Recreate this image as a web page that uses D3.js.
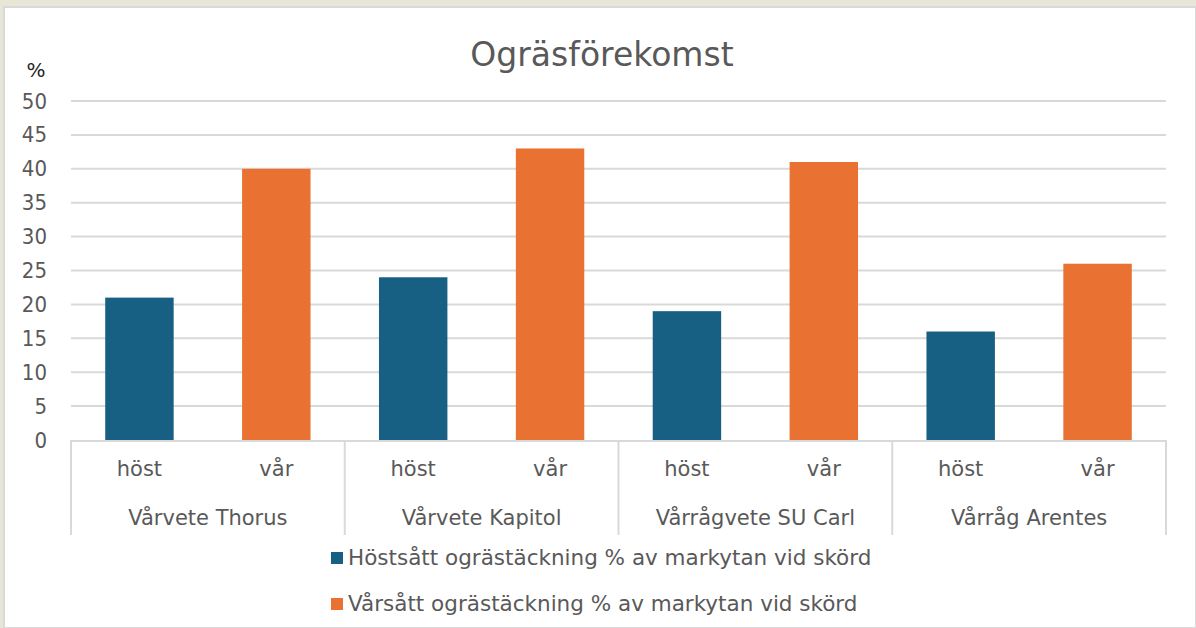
<!DOCTYPE html>
<html lang="sv">
<head>
<meta charset="utf-8">
<title>Ogräsförekomst</title>
<script src="https://d3js.org/d3.v7.min.js"></script>
<style>
  body { margin: 0; background: #e8e6d6; }
  svg { display: block; font-family: "DejaVu Sans", sans-serif; }
</style>
</head>
<body>
<svg width="1196" height="628"></svg>
<script>
// data
var groups = ['Vårvete Thorus', 'Vårvete Kapitol', 'Vårrågvete SU Carl', 'Vårråg Arentes'];
var seasons = ['höst', 'vår'];
var hostVals = [21, 24, 19, 16];
var varVals = [40, 43, 41, 26];
var seriesNames = ['Höstsått ogrästäckning % av markytan vid skörd',
                   'Vårsått ogrästäckning % av markytan vid skörd'];
var colors = ['#175f83', '#e97132'];
var yTicks = [0, 5, 10, 15, 20, 25, 30, 35, 40, 45, 50];

var svg = d3.select('svg');
var textCol = '#595959';

// white chart area inside beige frame
svg.append('rect').attr('x', 4).attr('y', 7).attr('width', 1192).attr('height', 621)
  .attr('fill', '#fff').attr('stroke', '#d9d9d9').attr('stroke-width', 2);

var plotL = 71, plotR = 1166, plotT = 101, plotB = 440;

var x0 = d3.scaleBand().domain(groups).range([plotL, plotR]);
var x1 = d3.scaleBand().domain(seasons).range([0, x0.bandwidth()]).paddingInner(0.5).paddingOuter(0.25);
var y = d3.scaleLinear().domain([0, 50]).range([plotB, plotT]);

// gridlines
svg.append('g').selectAll('line').data(yTicks.slice(1)).enter().append('line')
  .attr('x1', plotL).attr('x2', plotR)
  .attr('y1', function(d) { return y(d); }).attr('y2', function(d) { return y(d); })
  .attr('stroke', '#d9d9d9').attr('stroke-width', 2);

// y axis
var yAxis = svg.append('g').attr('transform', 'translate(' + 47 + ',0)')
  .call(d3.axisLeft(y).tickValues(yTicks).tickSize(0).tickPadding(0));
yAxis.select('.domain').remove();
yAxis.selectAll('text').attr('fill', textCol).style('font-size', '22px')
  .style('font-family', '"DejaVu Sans Condensed", "DejaVu Sans", sans-serif');

svg.append('text').attr('x', 36).attr('y', 77).attr('text-anchor', 'middle')
  .attr('fill', '#262626').style('font-size', '20px').text('%');

// title
svg.append('text').attr('x', 602).attr('y', 66).attr('text-anchor', 'middle')
  .attr('fill', textCol).style('font-size', '33px').text('Ogräsförekomst');

// bars
var rows = groups.map(function(g, i) { return { group: g, vals: [hostVals[i], varVals[i]] }; });
var gg = svg.append('g').selectAll('g').data(rows).enter().append('g')
  .attr('transform', function(d) { return 'translate(' + x0(d.group) + ',0)'; });
gg.selectAll('rect').data(function(d) { return d.vals.map(function(v, j) { return { s: seasons[j], v: v, j: j }; }); })
  .enter().append('rect')
  .attr('x', function(d) { return x1(d.s); })
  .attr('width', x1.bandwidth())
  .attr('y', function(d) { return y(d.v); })
  .attr('height', function(d) { return y(0) - y(d.v); })
  .attr('fill', function(d) { return colors[d.j]; });

// category axis box
var ax = svg.append('g');
ax.append('line').attr('x1', plotL).attr('x2', plotR).attr('y1', plotB + 1).attr('y2', plotB + 1)
  .attr('stroke', '#d9d9d9').attr('stroke-width', 2);
var edges = groups.map(function(g) { return x0(g); }).concat([plotR]);
ax.selectAll('line.sep').data(edges).enter().append('line').attr('class', 'sep')
  .attr('x1', function(d) { return d; }).attr('x2', function(d) { return d; })
  .attr('y1', plotB).attr('y2', 535)
  .attr('stroke', '#d9d9d9').attr('stroke-width', 2);

rows.forEach(function(r) {
  seasons.forEach(function(s) {
    ax.append('text').attr('x', x0(r.group) + x1(s) + x1.bandwidth() / 2).attr('y', 476)
      .attr('text-anchor', 'middle').attr('fill', textCol).style('font-size', '21px').text(s);
  });
  ax.append('text').attr('x', x0(r.group) + x0.bandwidth() / 2).attr('y', 525)
    .attr('text-anchor', 'middle').attr('fill', textCol).style('font-size', '21px').text(r.group);
});

// legend
var lg = svg.append('g').selectAll('g').data(seriesNames).enter().append('g')
  .attr('transform', function(d, i) { return 'translate(331,' + (552 + i * 46) + ')'; });
lg.append('rect').attr('width', 12).attr('height', 12)
  .attr('fill', function(d, i) { return colors[i]; });
lg.append('text').attr('x', 17).attr('y', 13).attr('fill', textCol)
  .style('font-size', '21.5px').text(function(d) { return d; });
</script>
</body>
</html>
